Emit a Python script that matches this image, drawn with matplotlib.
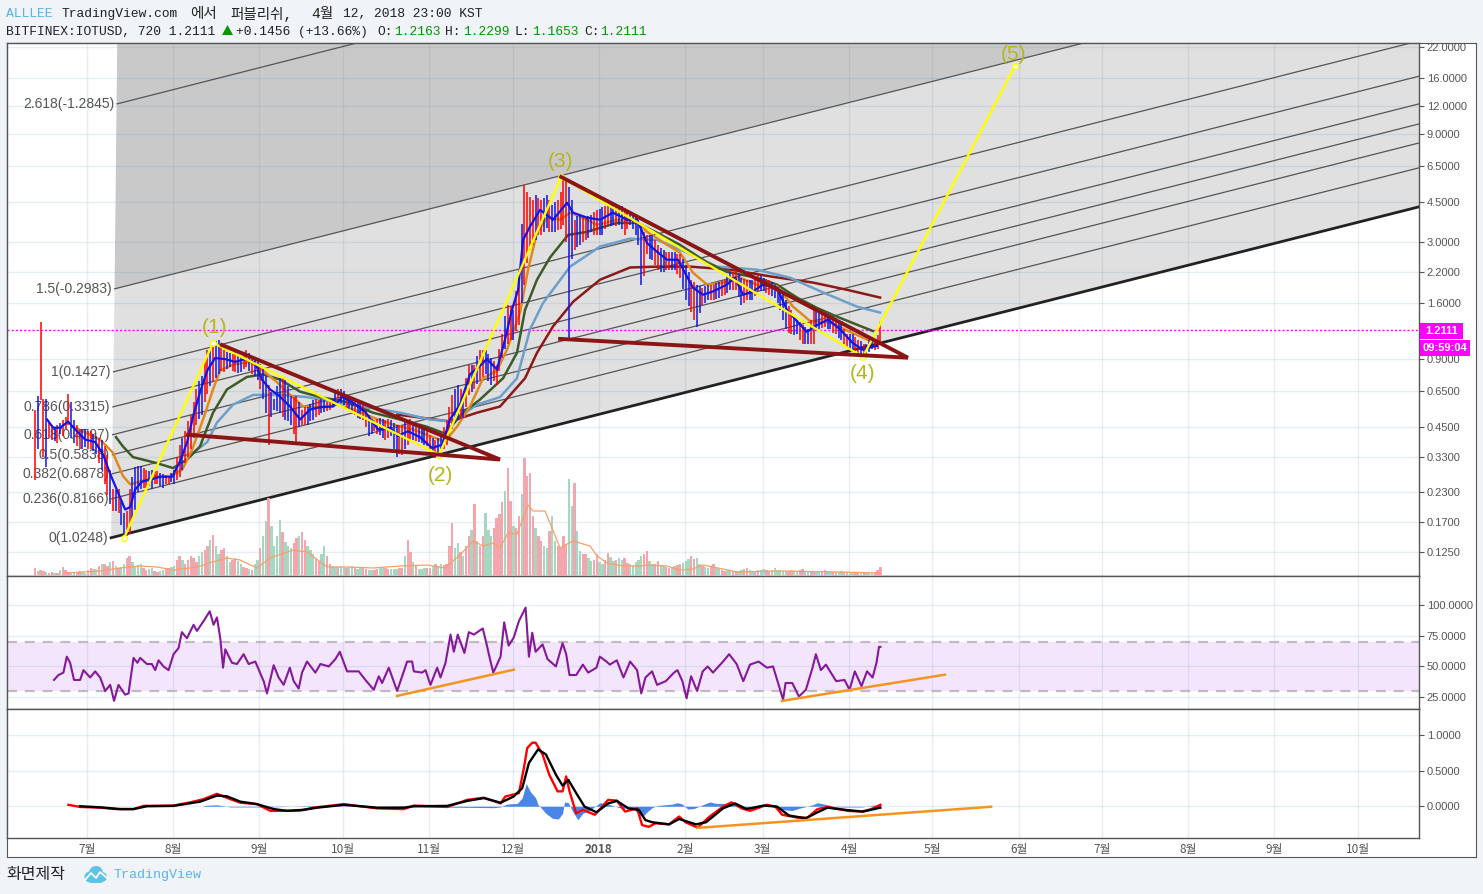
import matplotlib

matplotlib.use("Agg")

import matplotlib.pyplot as plt
import numpy as np
from matplotlib.patches import Circle, Polygon, Rectangle
from matplotlib.ticker import NullLocator

WIDTH, HEIGHT = 1483, 894

# x values are days since 2017-07-01
MONTH_DAYS = [0, 31, 62, 92, 123, 153, 184, 215, 243, 274, 304, 335, 365, 396, 427, 457]
MONTH_LABELS = ["7월", "8월", "9월", "10월", "11월", "12월", "2018", "2월", "3월", "4월",
                "5월", "6월", "7월", "8월", "9월", "10월"]

PRICE_TICKS = [22, 16, 12, 9, 6.5, 4.5, 3, 2.2, 1.6, 0.9, 0.65, 0.45, 0.33, 0.23, 0.17, 0.125]
RSI_TICKS = [100, 75, 50, 25]
MACD_TICKS = [1, 0.5, 0]
LAST_PRICE = 1.2111

CANDLE_START = -18.7
CANDLE_STEP = 2.0
candle_highs = [
    .537, 1.31, .60, .46, .46, .485, .63, .485, .44, .44,
    .43, .41, .395, .338, .237, .237, .187, .237, .298, .30,
    .29, .29, .285, .278, .27, .29, .375, .43, .51, .66,
    .76, .99, 1.05, 1.10, .99, .96, .97, .93, .99, .93,
    .91, .81, .69, .60, .74, .73, .62, .62, .537, .55,
    .595, .595, .595, .58, .645, .66, .62, .60, .595, .565,
    .51, .485, .495, .485, .485, .46, .46, .485, .475, .46,
    .438, .415, .395, .415, .485, .624, .69, .624, .85, .85,
    .99, .99, .91, .85, 1.16, 1.57, 1.49, 2.25, 5.36, 4.74,
    4.84, 4.6, 4.84, 4.37, 4.6, 5.8, 5.25, 3.75, 3.95, 3.83,
    3.95, 4.15, 4.28, 4.37, 4.46, 4.37, 4.24, 4.03, 3.95, 3.56,
    3.21, 3.21, 2.9, 2.76, 2.7, 2.7, 2.63, 2.37, 2.03, 1.93,
    1.87, 1.93, 1.93, 1.99, 2.03, 2.2, 2.25, 2.07, 2.03, 2.03,
    2.14, 2.07, 2.03, 1.93, 1.83, 1.65, 1.49, 1.35, 1.28, 1.22,
    1.49, 1.46, 1.41, 1.41, 1.35, 1.31, 1.16, 1.16, 1.10, 1.05,
    1.10, 1.10, 1.31,
]
candle_lows = [
    .262, .595, .297, .395, .38, .41, .46, .38, .357, .365,
    .357, .34, .29, .225, .19, .187, .145, .15, .193, .237,
    .24, .237, .25, .24, .25, .25, .27, .31, .357, .46,
    .51, .63, .71, .77, .79, .83, .79, .79, .83, .77,
    .73, .60, .375, .537, .52, .485, .46, .375, .46, .46,
    .485, .51, .525, .537, .575, .575, .537, .525, .495, .485,
    .41, .43, .415, .395, .41, .33, .338, .375, .395, .387,
    .375, .35, .328, .35, .375, .438, .485, .495, .624, .66,
    .73, .77, .69, .69, .91, 1.05, 1.10, 1.28, 1.93, 2.76,
    3.05, 3.21, 3.45, 3.31, 3.38, 3.56, 1.11, 2.76, 2.9, 3.05,
    3.31, 3.21, 3.21, 3.56, 3.56, 3.56, 3.21, 3.56, 3.21, 1.93,
    2.63, 2.49, 2.25, 2.2, 2.25, 2.25, 2.07, 1.65, 1.46, 1.25,
    1.57, 1.65, 1.65, 1.69, 1.74, 1.83, 1.83, 1.57, 1.65, 1.65,
    1.8, 1.8, 1.74, 1.69, 1.49, 1.22, 1.16, 1.16, 1.05, 1.05,
    1.05, 1.22, 1.25, 1.22, 1.16, 1.10, 1.02, .97, .93, .92,
    .97, .99, 1.05,
]
candle_dirs = (
    "rrbrrrrbrb" "rbbrrrbrbb" "rbrbrbrrrr" "brrbrbrbrr" "bbrbbbbrrb"
    "brbrbbrbbr" "brbrbbrrbb" "brrbrrbbrr" "rbbrrrbrrr" "brbbrrbrbr"
    "brbrbbrbbb" "rbrbrbrbrb" "rbrbrbrbrb" "rbrbbbrbrb" "rbrbrbrbrr" "brr"
)
volumes = [
    8, 6, 4, 4, 3, 9, 4, 3, 5, 3,
    8, 7, 12, 10, 15, 8, 12, 20, 10, 12,
    6, 8, 4, 6, 8, 10, 20, 12, 20, 14,
    24, 30, 41, 22, 28, 14, 18, 12, 8, 6,
    16, 40, 78, 30, 56, 34, 28, 38, 44, 30,
    22, 15, 30, 12, 9, 10, 8, 10, 7, 9,
    6, 6, 8, 8, 7, 7, 8, 36, 14, 7,
    8, 8, 12, 12, 12, 53, 33, 20, 40, 72,
    30, 63, 40, 58, 74, 108, 50, 60, 118, 103,
    48, 35, 28, 60, 30, 40, 97, 93, 25, 22,
    15, 22, 12, 23, 15, 18, 18, 12, 14, 20,
    25, 12, 15, 10, 8, 10, 12, 15, 20, 18,
    10, 8, 12, 7, 5, 6, 5, 6, 8, 5,
    6, 7, 5, 8, 6, 5, 6, 5, 7, 4,
    5, 4, 6, 4, 4, 5, 4, 4, 4, 3,
    3, 4, 9,
]

# bars that fall halfway between the ones above
mid_highs = [
    .62, .60, .47, .45, .47, .50, .58, .46, .44, .43,
    .42, .40, .37, .29, .235, .21, .19, .27, .30, .295,
    .285, .285, .28, .275, .28, .33, .40, .48, .58, .72,
    .88, 1.0, 1.08, 1.05, .97, .95, .95, .96, .96, .92,
    .86, .76, .64, .68, .74, .68, .61, .58, .55, .57,
    .60, .60, .58, .60, .66, .65, .60, .60, .58, .53,
    .49, .49, .49, .49, .47, .46, .48, .49, .46, .45,
    .43, .40, .40, .45, .55, .66, .66, .74, .85, .93,
    .99, .95, .88, 1.0, 1.4, 1.55, 1.8, 3.6, 5.0, 4.6,
    4.7, 4.7, 4.6, 4.5, 5.0, 5.6, 4.6, 3.9, 3.9, 3.9,
    4.05, 4.2, 4.3, 4.4, 4.4, 4.3, 4.1, 4.0, 3.75, 3.3,
    3.2, 3.05, 2.8, 2.7, 2.7, 2.65, 2.5, 2.2, 1.98, 1.9,
    1.9, 1.93, 1.96, 2.0, 2.1, 2.2, 2.15, 2.05, 2.03, 2.08,
    2.1, 2.05, 1.98, 1.88, 1.75, 1.55, 1.42, 1.32, 1.25, 1.35,
    1.47, 1.43, 1.41, 1.38, 1.33, 1.22, 1.16, 1.13, 1.08, 1.05,
    1.1, 1.15,
]
mid_lows = [
    .36, .33, .40, .39, .42, .44, .40, .37, .36, .36,
    .35, .31, .25, .205, .19, .165, .147, .175, .23, .24,
    .245, .25, .245, .25, .255, .26, .29, .33, .40, .49,
    .58, .68, .74, .80, .81, .80, .78, .81, .80, .76,
    .66, .52, .50, .53, .50, .48, .42, .45, .46, .48,
    .50, .52, .53, .55, .58, .56, .53, .51, .49, .45,
    .42, .42, .40, .40, .36, .34, .36, .39, .39, .38,
    .37, .34, .34, .36, .41, .47, .49, .55, .64, .70,
    .75, .72, .72, .80, 1.0, 1.1, 1.2, 1.6, 2.4, 2.9,
    3.2, 3.3, 3.3, 3.3, 3.4, 3.0, 2.5, 2.85, 3.0, 3.1,
    3.2, 3.2, 3.4, 3.5, 3.5, 3.4, 3.4, 3.4, 2.9, 2.1,
    2.5, 2.35, 2.2, 2.25, 2.25, 2.15, 1.85, 1.55, 1.35, 1.45,
    1.6, 1.65, 1.67, 1.72, 1.78, 1.83, 1.7, 1.6, 1.65, 1.72,
    1.8, 1.78, 1.72, 1.6, 1.35, 1.18, 1.15, 1.1, 1.05, 1.05,
    1.2, 1.24, 1.23, 1.18, 1.12, 1.05, 1.0, .95, .92, .93,
    1.0, 1.0,
]
mid_dirs = (
    "brrbbrbrbr" "brrbbbrbbr" "brbrbrbrrb" "rbbrbrbrbb" "rbbbrbrbrb"
    "rbrbrbbrbr" "brbrbrbrrb" "rbbrrbrrbb" "rbrrbrrbrr" "rbrbrrbbrb"
    "rbrbrbrbbr" "brbrbrbbrb" "brbrbrbrbr" "brbbbrbrbr" "brbrbrbrbb" "br"
)
mid_volumes = [
    5, 5, 3, 3, 6, 6, 3, 4, 4, 6,
    7, 10, 12, 14, 10, 9, 18, 14, 11, 8,
    7, 5, 5, 7, 9, 16, 16, 16, 18, 20,
    26, 36, 30, 26, 20, 16, 15, 9, 7, 12,
    28, 55, 50, 40, 44, 30, 33, 40, 36, 26,
    18, 22, 20, 10, 9, 9, 9, 8, 8, 7,
    6, 7, 8, 7, 7, 8, 20, 24, 10, 7,
    8, 10, 10, 11, 30, 28, 24, 30, 46, 35,
    40, 46, 48, 62, 85, 75, 48, 82, 100, 60,
    40, 30, 45, 35, 28, 32, 70, 45, 22, 18,
    16, 14, 16, 19, 16, 16, 13, 11, 16, 22,
    15, 12, 10, 9, 9, 11, 13, 17, 17, 12,
    9, 10, 8, 6, 6, 5, 5, 7, 6, 5,
    6, 6, 6, 6, 5, 5, 5, 6, 5, 4,
    4, 5, 5, 4, 4, 4, 4, 4, 3, 3,
    3, 6,
]

vol_ma_days = [-7.2, 4.7, 11.9, 19.1, 25.2, 30.9, 39.6, 45.3, 50.3, 55, 61.1, 65.8, 74.1, 79.1,
               86.3, 93.5, 102.8, 112.6, 122.3, 128.7, 134.1, 138.8, 142.4, 146, 148.5, 151.4,
               154.6, 158.6, 160.4, 164.7, 167.2, 170.1, 171.9, 174.8, 180.9, 183.4, 187, 192.7,
               198.9, 201.4, 208.6, 213.2, 217.9, 221.5, 228.7, 233.7, 249.2, 270.8, 285.2]
vol_ma = [3, 5, 8, 10, 9, 6, 9, 14, 18, 16, 8, 18, 26, 24,
          9, 9, 8, 10, 11, 8, 21, 35, 30, 33, 28, 43,
          42, 71, 65, 65, 48, 28, 31, 35, 30, 20, 13, 10,
          10, 11, 10, 6, 7, 11, 7, 4, 5, 4, 3]

fast_days = [-14.4, -12.2, -9.7, -6.8, -4.3, -.7, 2.9, 5.8, 8.3, 11.1, 13.7, 15.5, 17.3, 19.8,
             22.7, 26.3, 30.6, 33.4, 36, 38.1, 40.6, 43.2, 46, 49.6, 53.2, 56.8, 60.4, 62.9,
             65.8, 68.7, 73, 76.6, 80.2, 83.8, 88.5, 91.7, 95.3, 100, 104.6, 109, 111.8, 115.4,
             119.7, 124.1, 127.7, 130.5, 134.1, 137.7, 141.3, 143.8, 147.4, 150.3, 152.8, 155,
             156.8, 159.3, 162.9, 167.6, 172.6, 174.8, 179.8, 184.5, 189.1, 194.2, 197.8, 201.4,
             205, 208.6, 212.5, 215, 217.9, 221.5, 225.1, 230.1, 233, 235.9, 239.5, 243.1, 248.1,
             251.7, 255.7, 258.9, 261.8, 266.5, 270.8, 275.4, 279, 282.3, 284.1]
fast_ma = [.485, .446, .446, .475, .438, .395, .385, .338, .278, .23, .193, .198, .237, .257,
           .262, .27, .27, .316, .385, .5, .64, .80, .91, .90, .875, .90, .87, .73,
           .66, .624, .554, .485, .537, .55, .554, .61, .58, .525, .438, .446, .41, .43,
           .405, .362, .375, .485, .565, .77, .84, .90, .81, 1.10, 1.49, 1.83,
           3.05, 3.5, 4.15, 3.75, 4.46, 4.03, 3.83, 3.75, 4.03, 3.75, 3.75, 2.95,
           2.7, 2.49, 2.49, 2.18, 1.87, 1.74, 1.8, 1.93, 2.07, 1.74, 1.8, 1.93, 1.87,
           1.49, 1.31, 1.19, 1.26, 1.35, 1.22, 1.06, .99, 1.02, 1.03]

orange_days = [-5, 4.7, 9.3, 12.9, 15.5, 19.1, 25.2, 29.8, 34.2, 37.8, 41.7, 45.3, 47.8, 52.5,
               58.6, 63.3, 68.3, 73, 77.7, 83.8, 89.9, 95.7, 102.8, 110, 117.2, 124.4, 128.7,
               133, 137.7, 142.4, 147.4, 151, 155.7, 158.6, 161.8, 165.4, 170.1, 173.7, 177.3,
               183.4, 190.6, 197.8, 201.4, 208.6, 213.2, 217.9, 223, 228.7, 234.8, 240.9, 248.1,
               253.9, 260, 267.2, 274.4, 280.5, 285.2]
orange_ma = [.45, .395, .345, .272, .25, .257, .27, .27, .29, .357, .485, .66, .80, .85,
             .875, .80, .71, .624, .554, .55, .565, .537, .495, .46, .438, .405, .387,
             .45, .554, .74, .80, .99, 1.45, 2.25, 3.28, 3.83, 3.75, 4.03, 3.87,
             3.56, 3.75, 3.67, 3.31, 2.9, 2.68, 2.18, 1.93, 1.97, 2.07, 1.93, 1.9,
             1.54, 1.33, 1.31, 1.19, 1.10, 1.06]

green_days = [10.4, 12.9, 16.5, 25.2, 30.9, 36, 40.6, 45.3, 50.3, 57.5, 63.3, 69.4, 76.6, 83.8,
              93.5, 102.8, 112.6, 122.3, 128.7, 135.2, 141.3, 149.6, 154.6, 157.5, 161.8, 166.5,
              173, 179.8, 184.5, 190.6, 197.8, 205, 213.2, 223, 230.1, 240.9, 248.1, 255.3,
              262.5, 269.7, 276.9, 282.6]
green_ma = [.405, .368, .33, .31, .295, .322, .368, .52, .66, .75, .77, .73, .645, .61,
            .58, .52, .485, .45, .42, .52, .595, .74, .96, 1.49, 2.03, 2.55,
            3.21, 3.31, 3.45, 3.63, 3.63, 3.28, 2.9, 2.42, 2.2, 2.07, 1.93, 1.69,
            1.52, 1.39, 1.28, 1.2]

steel_days = [38.1, 43.2, 46.7, 52.5, 59.7, 69.4, 79.1, 88.5, 100.7, 112.6, 123.3, 131.6, 140.2,
              148.5, 154.6, 159.3, 164, 173.7, 184.5, 195.3, 205, 215.8, 226.5, 240.9, 252.8,
              264.7, 276.9, 285.2]
steel_ma = [.345, .385, .47, .565, .624, .624, .61, .58, .55, .52, .485, .475, .565,
            .61, .74, 1.22, 1.6, 2.32, 2.85, 3.09, 3.05, 2.68, 2.32, 2.25, 2.07,
            1.78, 1.54, 1.45]

maroon_days = [111.5, 119.7, 130.5, 140.2, 148.5, 157.5, 161.8, 167.6, 174.8, 184.5, 195.3, 205,
               216.8, 231.2, 246.7, 261.1, 273.3, 285.2]
maroon_ma = [.51, .495, .475, .52, .554, .74, .96, 1.26, 1.62, 2.03, 2.3, 2.32,
             2.32, 2.25, 2.09, 1.97, 1.83, 1.69]

# Fibonacci channel levels
fib_labels = ["0(1.0248)", "0.236(0.8166)", "0.382(0.6878)", "0.5(0.5838)", "0.618(0.4797)",
              "0.786(0.3315)", "1(0.1427)", "1.5(-0.2983)", "2.618(-1.2845)"]
fib_start_days = [8.63, 8.83, 8.95, 9.06, 9.17, 9.3, 9.48, 9.89, 10.82]
fib_start_prices = [.1445, .2154, .278, .338, .415, .552, .79, 1.848, 12.28]
fib_end_day = 479.0
fib_end_prices = [4.28, 6.38, 8.23, 10.0, 12.28, 16.3, 23.4, 54.7, 363.0]

wave_days = [13.3, 45.3, 126.6, 170.5, 279, 333.7]
wave_prices = [.1445, 1.063, .338, 5.81, .921, 18.1]
wave_labels = ["(1)", "(2)", "(3)", "(4)", "(5)"]
wave_label_days = [45.8, 126.9, 170.4, 279, 333]
wave_label_prices = [1.245, .272, 6.78, .775, 20.4]

triangle_days = [[48.5, 148.5, 36.3], [170.5, 295.2, 170.1]]
triangle_prices = [[1.04, .322, .415], [5.81, .913, 1.107]]

rsi_days = [-11.9, -10.3, -8.5, -7.3, -6.1, -4.7, -2.5, -1.3, 1.1, 2.9, 4.7, 6.5, 8.3, 9.7, 11.3,
            13.7, 14.9, 16.7, 18.1, 19.1, 21.5, 23.3, 24.5, 25.7, 27.5, 29.3, 31.1, 32.9, 34.1,
            35.9, 38.3, 39.5, 41.9, 44.1, 45.5, 46.7, 47.9, 48.9, 49.7, 52.1, 53.9, 56.3, 58.1,
            60.5, 63.5, 64.7, 67.1, 68.9, 70.7, 72.9, 74.3, 76.1, 77.3, 79.1, 82.1, 83.9, 86.9,
            89.3, 90.9, 93.5, 97.7, 100.1, 103.1, 104.9, 106.1, 108.5, 111.5, 115.1, 116.9, 117.5,
            120.5, 121.7, 123.5, 125.9, 127.1, 128.9, 130.7, 131.9, 133.3, 135.7, 137.3, 139.1,
            142.3, 143.7, 145.1, 146.1, 148.7,
            150.0, 151.6, 153.4, 155.3, 157.7, 158.9, 160.1, 161.3, 163.8, 165.6, 168.6, 171.0,
            172.3, 173.5, 175.9, 178.3, 180.2, 183.2, 184.4, 186.8, 188.0, 190.5, 192.9, 195.3,
            197.8, 199.3, 200.8, 203.2, 205.0, 208.1, 211.1, 212.3, 214.1, 215.6, 217.2, 219.4,
            221.4, 223.2, 225.1, 228.7, 230.9, 233.6, 236.0, 238.4, 241.5, 244.5, 246.7, 248.7,
            250.3, 251.2, 253.6, 256.0, 258.5, 260.9, 262.1, 263.9, 265.7, 269.4, 272.4, 274.2,
            276.1, 278.5, 280.5, 282.5, 283.9, 284.8, 285.3]
rsi_values = [39, 43, 45, 58, 53, 39, 39, 47, 41, 46, 41, 30, 35, 22, 35,
              27, 28, 57, 53, 57, 52, 52, 47, 55, 50, 47, 60, 65, 78,
              73, 84, 79, 87, 95, 84, 90, 73, 49, 64, 53, 52, 60, 52,
              54, 38, 28, 51, 41, 35, 49, 38, 32, 45, 54, 45, 52, 50,
              56, 62, 46, 46, 39, 31, 42, 36.5, 49, 30, 54, 54, 46,
              45, 47, 35, 49, 41, 53, 76, 62, 76, 61, 78, 76,
              81, 68, 54, 45, 58,
              86, 67, 73.4, 87, 98, 58, 77.5, 62, 68, 56, 50, 69,
              60, 43, 43, 51.5, 45, 49, 58, 54, 51.5, 55, 41, 54,
              47, 28, 41, 46, 35, 38, 45, 47, 38, 24, 42, 30,
              46, 50, 45, 54, 60, 52, 38, 51.5, 54, 49, 50, 35,
              23, 36.5, 36.5, 25.5, 31, 49, 60, 47, 51.5, 38, 39, 31,
              46, 34, 46, 41, 53, 66, 66]
rsi_trend_days = [[111.5, 153.5], [249.9, 308.5]]
rsi_trend_values = [[26, 47.4], [21.9, 43.3]]

macd_days = [-6.7, -2.5, 4.7, 10.7, 16.7, 20.3, 31.1, 37.1, 41.9, 46.7, 51.5, 55.1, 61.1, 65.9,
             70.7, 76.7, 81.5, 92.3, 104.3, 113.9, 117.5, 129.5, 136.7, 142.7, 148.7,
             150.4, 155.3, 157.1, 158.3, 160.1, 161.3, 163.8, 166.2, 169.2, 171, 172.3, 173.5,
             175.9, 178.3, 182.6, 187.4, 190.5, 193.5, 197.8, 199.6, 202, 204.4, 209.3, 212.9,
             215.4, 219.6, 223.9, 228.7, 231.7, 235.4, 238.4, 244.5, 247.5, 250, 255.4, 259.1,
             262.7, 266.3, 273.6, 278.5, 282.1, 285.3]
macd_values = [.02, -.01, -.02, -.04, -.04, .005, .01, .055, .10, .175, .10, .05, .03, -.065,
               -.065, -.06, -.02, .03, -.03, -.04, .01, -.01, .09, .12, .04,
               .137, .185, .54, .82, .895, .895, .73, .445, .21, .21, .42, .21,
               -.10, -.05, -.12, .09, .08, -.075, -.03, -.265, -.29, -.24, -.255, -.145,
               -.23, -.30, -.145, -.005, .055, -.03, -.065, .02, -.005, -.12, -.16, -.16,
               -.04, -.01, -.065, -.075, -.04, .02]
signal_days = [-2.5, 4.7, 11.9, 16.7, 21.5, 31.1, 40.7, 46.7, 50.3, 55.1, 61.1, 67.1, 71.9, 77.9,
               82.7, 92.3, 104.3, 113.9, 117.5, 129.5, 136.7, 142.7, 148.7,
               153.4, 156.5, 158.9, 162.2, 165, 168.6, 171, 173.1, 175.9, 178.9, 183.2, 187.4,
               190.5, 194.7, 198.4, 200.8, 203.2, 209.3, 212.9, 219, 222.6, 228.7, 233, 237.2,
               243.3, 248.1, 252.4, 258.5, 262.7, 266.3, 273.6, 279.1, 285.3]
signal_values = [0, -.015, -.04, -.04, 0, .005, .065, .15, .14, .065, .03, -.04, -.065, -.05,
                 -.02, .02, -.02, -.02, 0, .005, .075, .115, .05,
                 .137, .255, .61, .80, .73, .445, .29, .37, .185, -.005, -.085, .04,
                 .075, -.03, -.05, -.195, -.225, -.255, -.18, -.255, -.225, -.03, .04, -.04,
                 .01, -.005, -.13, -.17, -.085, -.02, -.055, -.075, -.02]
hist_days = [41.9, 46.7, 51.5, 65.9, 81.5, 146.2, 148.6, 151, 154.7, 156.5, 157.9, 159.5, 161.3,
             162.2, 163.2, 165, 167.4, 169.5, 171, 171.7, 173.1, 174.7, 176.5, 178.3, 181.4,
             184.4, 187.4, 192.3, 195.9, 199.6, 201.4, 203.2, 205, 210.5, 212.3, 214.1, 216,
             218.4, 221.4, 223.9, 226.3, 229.9, 233.6, 237.2, 240.8, 245.7, 250.6, 253.6, 256,
             260.9, 262.7, 266.3, 270, 273.6, 278.5, 282.1, 285.3]
hist_values = [.01, .02, -.01, -.01, .01, -.02, -.01, .03, .04, .12, .32, .2, .12,
               .02, -.02, -.1, -.17, -.18, -.1, .06, .05, -.08, -.19, -.1, -.04,
               .05, .03, -.03, -.02, -.15, -.08, -.02, .01, .03, .05, .03, -.04,
               -.03, .02, .06, .04, .04, .02, -.03, .01, .02, -.05, -.06, -.03,
               .02, .05, .02, -.01, -.01, -.01, .01, .03]
macd_trend_days = [219.4, 325.1]
macd_trend_values = [-.305, -.007]

PAGE = "#f0f3f7"
FRAME = "#555555"
TEXT = "#555555"
MONO = ["Liberation Mono", "Noto Sans CJK KR"]
KR = ["Noto Sans CJK KR", "Liberation Sans"]
XLIM = (-28.8, 479.0)


def axes_rect(left, top, right, bottom):
    return [left / WIDTH, 1 - bottom / HEIGHT, (right - left) / WIDTH, (bottom - top) / HEIGHT]


def style_panel(axis, yticks, ylabels):
    axis.set_xlim(*XLIM)
    axis.set_xticks(MONTH_DAYS)
    axis.set_xticklabels([])
    axis.tick_params(axis="x", length=0)
    axis.yaxis.tick_right()
    axis.set_yticks(yticks)
    axis.set_yticklabels(ylabels, fontsize=8, color=TEXT, family="Liberation Sans")
    axis.yaxis.set_minor_locator(NullLocator())
    axis.tick_params(axis="y", length=3.5, color=FRAME, pad=2)
    # thin translucent grid so it still shows on the grey channel zones
    axis.grid(True, color="#588eb5", alpha=0.15, linewidth=1.0)
    for spine in axis.spines.values():
        spine.set_color(FRAME)
        spine.set_linewidth(1.0)


def draw_main(axis):
    axis.set_yscale("log")
    axis.set_ylim(0.0977, 22.9)
    style_panel(axis, PRICE_TICKS, [f"{tick:.4f}" for tick in PRICE_TICKS])

    starts = list(zip(fib_start_days, fib_start_prices))
    ends = [(fib_end_day, price) for price in fib_end_prices]
    axis.add_patch(Polygon([starts[0], ends[0], ends[7], starts[7]], facecolor="#e0e0e0",
                           edgecolor="none", zorder=1))
    axis.add_patch(Polygon([starts[7], ends[7], (fib_end_day, 500), (12, 500)],
                           facecolor="#c9c9c9", edgecolor="none", zorder=1))
    for index, label in enumerate(fib_labels):
        axis.plot([fib_start_days[index], fib_end_day],
                  [fib_start_prices[index], fib_end_prices[index]],
                  color="#222222" if index == 0 else "#555555",
                  linewidth=2.0 if index == 0 else 0.9, zorder=2)
        axis.annotate(label, (fib_start_days[index], fib_start_prices[index]),
                      xytext=(-2, 0), textcoords="offset points", ha="right", va="center",
                      fontsize=10, color=TEXT, family="Liberation Sans", zorder=2)

    axis.axhline(LAST_PRICE, color="#ff00ff", linewidth=1.0, linestyle=(0, (1.5, 1.5)), zorder=2.5)

    axis.plot(maroon_days, maroon_ma, color="#8b1a1a", linewidth=1.8, zorder=3)
    axis.plot(steel_days, steel_ma, color="#6c9fca", linewidth=1.8, zorder=3)
    axis.plot(green_days, green_ma, color="#3d5a2a", linewidth=1.8, zorder=3)
    axis.plot(orange_days, orange_ma, color="#e08a1e", linewidth=1.8, zorder=3)

    candle_days = CANDLE_START + CANDLE_STEP * np.arange(len(candle_highs))
    colours = ["#ff0000" if d == "r" else "#1414e6" for d in candle_dirs]
    axis.vlines(candle_days, candle_lows, candle_highs, colors=colours, linewidth=1.1, zorder=4)
    mid_days = CANDLE_START + CANDLE_STEP / 2 + CANDLE_STEP * np.arange(len(mid_highs))
    mid_colours = ["#ff0000" if d == "r" else "#1414e6" for d in mid_dirs]
    axis.vlines(mid_days, mid_lows, mid_highs, colors=mid_colours, linewidth=1.1, zorder=4)
    axis.plot(fast_days, fast_ma, color="#1414e6", linewidth=1.6, zorder=5)

    axis.plot(wave_days, wave_prices, color="#ffff00", linewidth=1.7, zorder=6,
              marker="o", markersize=4, markerfacecolor="white", markeredgecolor="#ffff00")
    for days, prices in zip(triangle_days, triangle_prices):
        axis.plot(days, prices, color="#8b1515", linewidth=2.8, solid_joinstyle="miter", zorder=7)
    for day, price, label in zip(wave_label_days, wave_label_prices, wave_labels):
        axis.text(day, price, label, ha="center", va="center", fontsize=15, color="#b5b51e",
                  family="Liberation Sans", zorder=8)


def draw_volume(axis):
    axis.set_xlim(*XLIM)
    axis.set_ylim(0, 533)
    axis.set_yticks([])
    axis.patch.set_visible(False)
    for spine in axis.spines.values():
        spine.set_visible(False)
    pink, green = "#f4a6ae", "#a5d7c1"
    candle_days = CANDLE_START + CANDLE_STEP * np.arange(len(volumes))
    axis.bar(candle_days, volumes, width=0.85, linewidth=0,
             color=[pink if d == "r" else green for d in candle_dirs])
    mid_days = CANDLE_START + CANDLE_STEP / 2 + CANDLE_STEP * np.arange(len(mid_volumes))
    axis.bar(mid_days, mid_volumes, width=0.85, linewidth=0,
             color=[pink if d == "r" else green for d in mid_dirs])
    axis.plot(vol_ma_days, vol_ma, color="#f5a06a", linewidth=0.9)


def draw_rsi(axis):
    axis.set_ylim(15.3, 123.8)
    style_panel(axis, RSI_TICKS, [f"{tick:.4f}" for tick in RSI_TICKS])
    axis.axhspan(30, 70, color="#f3e6fc", linewidth=0, zorder=0.8)
    for level in (30, 70):
        axis.axhline(level, color="#c2b8c6", linewidth=1.6, linestyle=(0, (4.5, 3.5)), zorder=1.8)
    axis.plot(rsi_days, rsi_values, color="#85199a", linewidth=1.5, zorder=3)
    for days, values in zip(rsi_trend_days, rsi_trend_values):
        axis.plot(days, values, color="#f5941e", linewidth=1.8, zorder=4)


def draw_macd(axis):
    axis.set_ylim(-0.447, 1.369)
    style_panel(axis, MACD_TICKS, [f"{tick:.4f}" for tick in MACD_TICKS])
    axis.fill_between(hist_days, 0, hist_values, color="#4a86e8", linewidth=0, zorder=2.5)
    axis.plot(macd_days, macd_values, color="#ff0000", linewidth=1.7, zorder=3)
    axis.plot(signal_days, signal_values, color="#000000", linewidth=1.7, zorder=4)
    axis.plot(macd_trend_days, macd_trend_values, color="#f5941e", linewidth=1.8, zorder=5)
    axis.set_xticklabels(MONTH_LABELS, fontsize=8.5, color=TEXT, family=KR, va="baseline")
    axis.get_xticklabels()[6].set_fontweight("bold")
    axis.tick_params(axis="x", pad=10.8)


def draw_header(axis):
    line1 = 14
    line2 = 32
    dark = "#222222"
    axis.text(6, line1, "ALLLEE", color="#58b4e6", fontsize=9.4, family=MONO, va="center")
    axis.text(62, line1, "TradingView.com", color=dark, fontsize=9.4, family=MONO, va="center")
    axis.text(190, line1, "에서", color=dark, fontsize=10.5, family=MONO, va="center")
    axis.text(230, line1, "퍼블리쉬,", color=dark, fontsize=10.5, family=MONO, va="center")
    axis.text(311, line1, "4월", color=dark, fontsize=10.5, family=MONO, va="center")
    axis.text(343, line1, "12, 2018 23:00 KST", color=dark, fontsize=9.4, family=MONO, va="center")

    axis.text(6, line2, "BITFINEX:IOTUSD, 720 1.2111", color=dark, fontsize=9.4, family=MONO, va="center")
    axis.add_patch(Polygon([(222, 35), (233, 35), (227.5, 25)], facecolor="#009900", edgecolor="none"))
    axis.text(236, line2, "+0.1456 (+13.66%)", color=dark, fontsize=9.4, family=MONO, va="center")
    for x, text in [(377, "O:"), (445, "H:"), (514, "L:"), (584, "C:")]:
        axis.text(x, line2, text, color=dark, fontsize=9.4, family=MONO, va="center")
    for x, text in [(394, "1.2163"), (463, "1.2299"), (532, "1.1653"), (600, "1.2111")]:
        axis.text(x, line2, text, color="#009900", fontsize=9.4, family=MONO, va="center")


def draw_footer(axis):
    axis.text(6, 874, "화면제작", color="#222222", fontsize=11.5, family=KR, va="center")
    axis.add_patch(Circle((90, 877), 5.5, facecolor="#5fc3e8", edgecolor="none"))
    axis.add_patch(Circle((96, 873), 7, facecolor="#5fc3e8", edgecolor="none"))
    axis.add_patch(Circle((102, 877), 5, facecolor="#5fc3e8", edgecolor="none"))
    axis.add_patch(Rectangle((90, 877), 12, 5.5, facecolor="#5fc3e8", edgecolor="none"))
    axis.plot([85, 91, 96, 100, 107], [880, 873, 878, 872, 878], color="white", linewidth=1.2)
    axis.text(114, 875, "TradingView", color="#58b4e6", fontsize=9.6, family=MONO, va="center")


def draw_price_boxes(axis):
    axis.add_patch(Rectangle((1420, 323), 43, 16, facecolor="#ff00ff", edgecolor="none"))
    axis.text(1442, 331, "1.2111", color="white", fontsize=8, fontweight="bold",
              family="Liberation Sans", ha="center", va="center")
    axis.add_patch(Rectangle((1420, 340), 50, 16, facecolor="#ff00ff", edgecolor="none"))
    axis.text(1445, 348, "09:59:04", color="white", fontsize=8, fontweight="bold",
              family="Liberation Sans", ha="center", va="center")


def build_figure():
    figure = plt.figure(figsize=(WIDTH / 100, HEIGHT / 100), dpi=100, facecolor=PAGE)

    frame = figure.add_axes(axes_rect(7, 43, 1476, 857), zorder=0)
    frame.set_xticks([])
    frame.set_yticks([])
    for spine in frame.spines.values():
        spine.set_color(FRAME)

    main_axis = figure.add_axes(axes_rect(7, 43, 1419, 576), zorder=1)
    volume_axis = main_axis.twinx()
    volume_axis.set_zorder(1.5)
    rsi_axis = figure.add_axes(axes_rect(7, 576, 1419, 709), zorder=1)
    macd_axis = figure.add_axes(axes_rect(7, 709, 1419, 838), zorder=1)

    draw_main(main_axis)
    draw_volume(volume_axis)
    draw_rsi(rsi_axis)
    draw_macd(macd_axis)

    overlay = figure.add_axes([0, 0, 1, 1], zorder=5)
    overlay.set_xlim(0, WIDTH)
    overlay.set_ylim(HEIGHT, 0)
    overlay.axis("off")
    overlay.patch.set_visible(False)
    draw_header(overlay)
    draw_footer(overlay)
    draw_price_boxes(overlay)
    return figure


def main():
    figure = build_figure()
    figure.savefig("out.png", dpi=100, facecolor=PAGE)
    plt.close(figure)


if __name__ == "__main__":
    main()
